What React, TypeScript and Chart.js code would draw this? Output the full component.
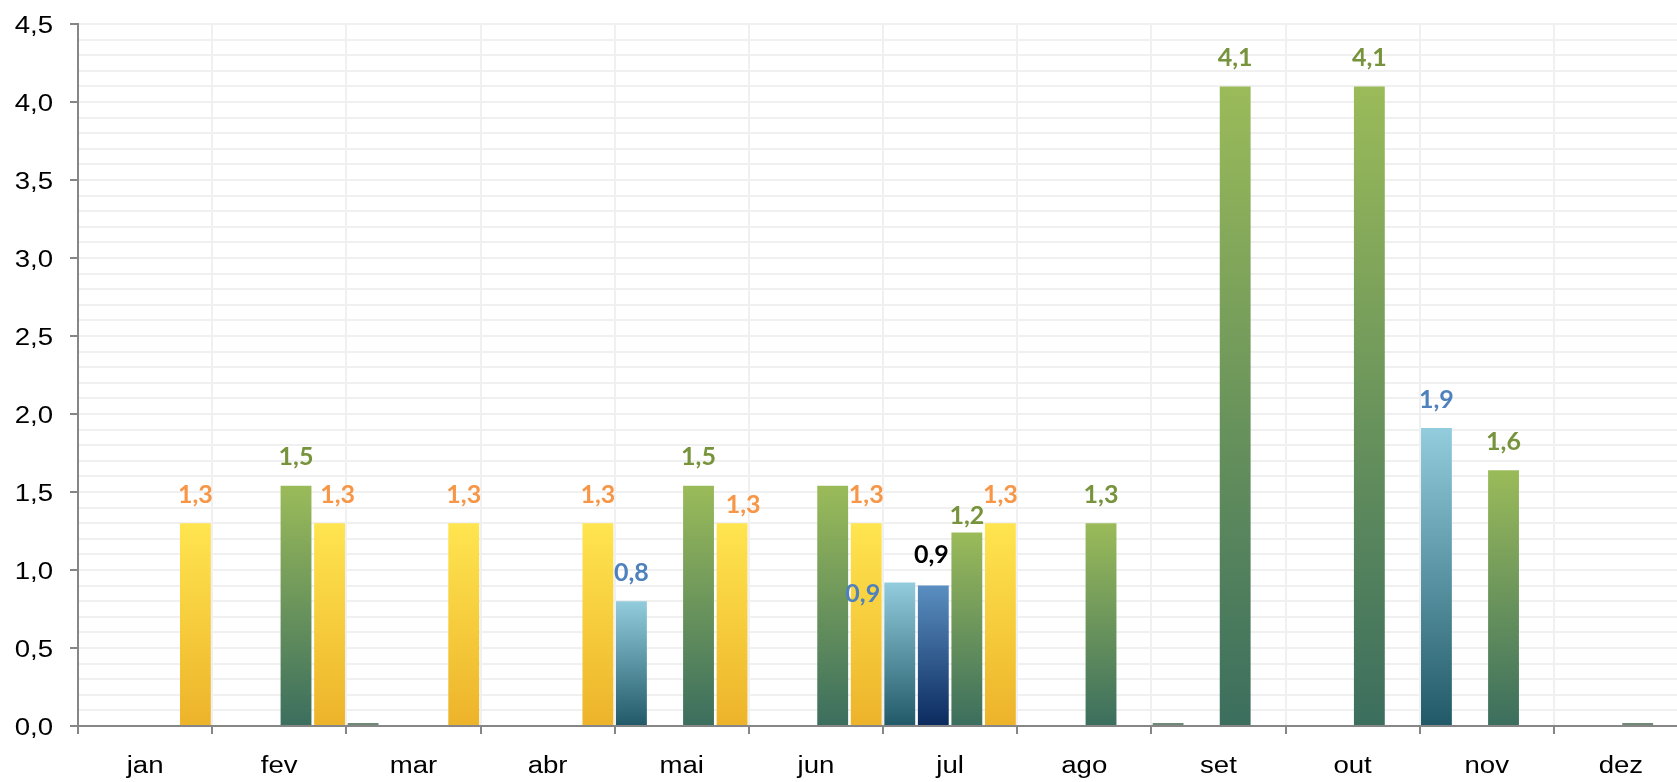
import React, { useEffect, useRef } from "react";
import { Chart, registerables } from "chart.js";

Chart.register(...registerables);

const months = ["jan", "fev", "mar", "abr", "mai", "jun", "jul", "ago", "set", "out", "nov", "dez"];

const seriesNames = ["Série A", "Série B", "Série C", "Série D"];

const valuesLightBlue: (number | null)[] = [null, null, 0, null, 0.8, null, 0.92, null, 0, null, 1.91, null];
const valuesDarkBlue: (number | null)[] = [null, null, null, null, null, null, 0.9, null, null, null, null, null];
const valuesGreen: (number | null)[] = [null, 1.54, null, null, 1.54, 1.54, 1.24, 1.3, 4.1, 4.1, 1.64, 0];
const valuesYellow: (number | null)[] = [1.3, 1.3, 1.3, 1.3, 1.3, 1.3, 1.3, null, null, null, null, null];

const labelsLightBlue = [false, false, false, false, true, false, true, false, false, false, true, false];
const labelsDarkBlue = [false, false, false, false, false, false, true, false, false, false, false, false];
const labelsGreen = [false, true, false, false, true, false, true, true, true, true, true, false];
const labelsYellow = [true, true, true, true, true, true, true, false, false, false, false, false];

const yMin = 0;
const yMax = 4.5;
const yMinorStep = 0.1;

// label offsets relative to the default "above the bar" placement
const labelNudges: Record<string, [number, number]> = {
  "3:1": [8, 0],
  "3:4": [11, 10],
  "0:6": [-37, 40],
  "1:6": [-2, -2],
  "2:6": [0, 12],
};

const gradientFill = (top: string, bottom: string) => (ctx: any) => {
  const chart = ctx.chart;
  const v = ctx.raw;
  if (ctx.type !== "data" || v == null) return bottom;
  const ys = chart.scales && chart.scales.y;
  if (!ys) return bottom;
  const y0 = ys.getPixelForValue(0);
  const y1 = ys.getPixelForValue(v);
  if (!isFinite(y0) || !isFinite(y1) || Math.abs(y0 - y1) < 2) return "#6f8878";
  const g = chart.ctx.createLinearGradient(0, y1, 0, y0);
  g.addColorStop(0, top);
  g.addColorStop(1, bottom);
  return g;
};

const labelColors = ["#4F81BD", "#000000", "#77933C", "#F79646"];
const labelFlags = [labelsLightBlue, labelsDarkBlue, labelsGreen, labelsYellow];

const TEXT_STRETCH = 1.2;
const AXIS_FONT = "23px 'Liberation Sans', Arial, sans-serif";

const drawStretched = (ctx: any, text: string, x: number, y: number, align: string) => {
  ctx.save();
  ctx.translate(x, y);
  ctx.scale(TEXT_STRETCH, 1);
  ctx.textAlign = align;
  ctx.textBaseline = "alphabetic";
  ctx.fillText(text, 0, 0);
  ctx.restore();
};

const isMajor = (v: number) => Math.abs(v * 2 - Math.round(v * 2)) < 1e-6;

const axisLabelPlugin = {
  id: "axisLabels",
  afterDraw(chart: any) {
    const ctx = chart.ctx;
    const ys = chart.scales.y;
    const xs = chart.scales.x;
    ctx.save();
    ctx.font = AXIS_FONT;
    ctx.fillStyle = "#000000";
    ys.ticks.forEach((t: any) => {
      if (!isMajor(t.value)) return;
      const py = ys.getPixelForValue(t.value);
      drawStretched(ctx, t.value.toFixed(1).replace(".", ","), ys.right - 25, py + 8.5, "right");
    });
    chart.data.labels.forEach((lab: string, i: number) => {
      const px = xs.getPixelForValue(i);
      drawStretched(ctx, lab, px, xs.top + 47, "center");
    });
    ctx.restore();
  },
};

const valueLabelPlugin = {
  id: "valueLabels",
  afterDatasetsDraw(chart: any) {
    const ctx = chart.ctx;
    ctx.save();
    ctx.font = "bold 25px Lato, 'Open Sans', sans-serif";
    ctx.textAlign = "center";
    ctx.textBaseline = "middle";
    chart.data.datasets.forEach((ds: any, i: number) => {
      const meta = chart.getDatasetMeta(i);
      meta.data.forEach((el: any, j: number) => {
        const v = ds.data[j];
        if (v == null || !labelFlags[i][j]) return;
        const nudge = labelNudges[`${i}:${j}`] || [0, 0];
        ctx.fillStyle = labelColors[i];
        ctx.fillText(v.toFixed(1).replace(".", ","), el.x + nudge[0], el.y - 28.5 + nudge[1]);
      });
    });
    ctx.restore();
  },
};

export default function App() {
  const ref = useRef<HTMLCanvasElement>(null);
  useEffect(() => {
    if (!ref.current) return;
    const chart = new Chart(ref.current, {
      type: "bar",
      data: {
        labels: months,
        datasets: [
          { label: seriesNames[0], data: valuesLightBlue, backgroundColor: gradientFill("#93CDDD", "#215968") },
          { label: seriesNames[1], data: valuesDarkBlue, backgroundColor: gradientFill("#5B8FC1", "#0B2A5E") },
          { label: seriesNames[2], data: valuesGreen, backgroundColor: gradientFill("#9BBB59", "#3B6E5E") },
          { label: seriesNames[3], data: valuesYellow, backgroundColor: gradientFill("#FFE54F", "#EDB32A") },
        ],
      },
      options: {
        responsive: false,
        animation: false,
        devicePixelRatio: 1,
        layout: { padding: { top: 24, right: 4, left: 0, bottom: 0 } },
        datasets: {
          bar: {
            categoryPercentage: 1.0,
            barPercentage: 0.92,
            borderWidth: 0,
            minBarLength: 3,
          },
        },
        plugins: {
          legend: { display: false },
          tooltip: { enabled: false },
          title: { display: false },
        },
        scales: {
          x: {
            grid: {
              offset: true,
              color: "#F0F0F0",
              lineWidth: 2,
              tickColor: "#868686",
              tickLength: 8,
              tickWidth: 2,
            },
            border: { color: "#868686", width: 2 },
            ticks: { display: false },
            afterFit: (scale: any) => {
              scale.height = 56;
            },
          },
          y: {
            min: yMin,
            max: yMax,
            grid: {
              color: "#F0F0F0",
              lineWidth: 2,
              tickColor: (c: any) => (c.tick && isMajor(c.tick.value) ? "#868686" : "rgba(0,0,0,0)"),
              tickLength: 8,
              tickWidth: 2,
            },
            border: { color: "#868686", width: 2 },
            ticks: {
              display: false,
              stepSize: yMinorStep,
              autoSkip: false,
            },
            afterFit: (scale: any) => {
              scale.width = 78;
            },
          },
        },
      },
      plugins: [valueLabelPlugin, axisLabelPlugin],
    });
    return () => chart.destroy();
  }, []);

  return (
    <div
      style={{
        position: "fixed",
        left: 0,
        top: 0,
        width: 1677,
        height: 782,
        overflow: "hidden",
        background: "#ffffff",
      }}
    >
      <canvas ref={ref} width={1692} height={782} style={{ display: "block" }} />
    </div>
  );
}
